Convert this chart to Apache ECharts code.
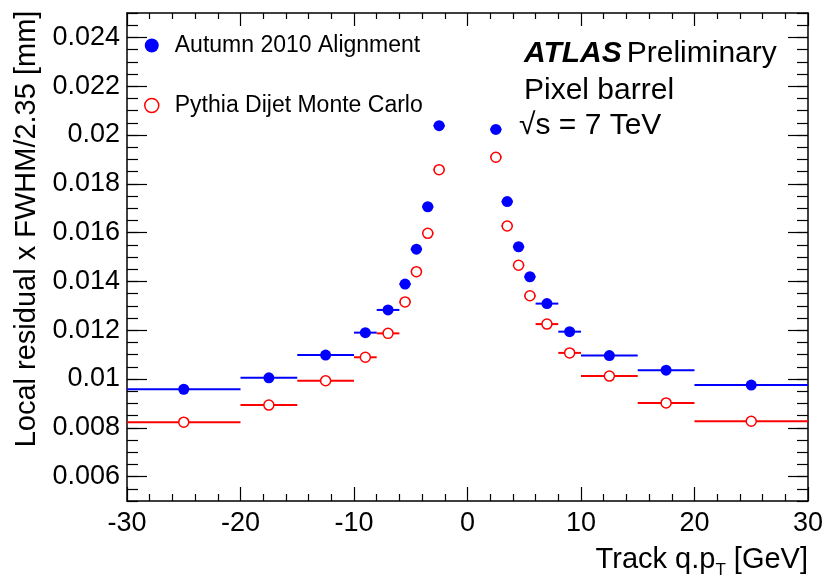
<!DOCTYPE html>
<html>
<head>
<meta charset="utf-8">
<script src="https://cdn.jsdelivr.net/npm/echarts@6/dist/echarts.min.js"></script>
<style>
html,body{margin:0;padding:0;background:#fff;}
#chart{width:826px;height:585px;}
</style>
</head>
<body>
<div id="chart"></div>
<script>
// ---- data ----
const xCenters = [-25, -17.5, -12.5, -9, -7, -5.5, -4.5, -3.5, -2.5, 2.5, 3.5, 4.5, 5.5, 7, 9, 12.5, 17.5, 25];
const binLow   = [-30, -20, -15, -10, -8, -6, -5, -4, -3, 2, 3, 4, 5, 6, 8, 10, 15, 20];
const binHigh  = [-20, -15, -10, -8, -6, -5, -4, -3, -2, 3, 4, 5, 6, 8, 10, 15, 20, 30];
const dataVals = [0.00958, 0.01005, 0.01098, 0.01190, 0.01283, 0.01389, 0.01532, 0.01706, 0.02038,
                  0.02023, 0.01727, 0.01542, 0.01419, 0.01309, 0.01194, 0.01096, 0.01036, 0.00975];
const mcVals   = [0.00823, 0.00893, 0.00993, 0.01089, 0.01187, 0.01316, 0.01440, 0.01597, 0.01858,
                  0.01909, 0.01627, 0.01466, 0.01341, 0.01225, 0.01107, 0.01012, 0.00902, 0.00827];
const yTickValues = [0.006, 0.008, 0.010, 0.012, 0.014, 0.016, 0.018, 0.020, 0.022, 0.024];
const dataName = 'Autumn 2010 Alignment';
const mcName = 'Pythia Dijet Monte Carlo';

const FONT = '"Liberation Sans", Arial, Helvetica, sans-serif';
const BLUE = '#0000ff', RED = '#ff0000';

const chart = echarts.init(document.getElementById('chart'));

function errBarSeries(vals, color) {
  return {
    type: 'custom', xAxisIndex: 0, yAxisIndex: 0, silent: true, z: 1,
    data: vals.map((v, i) => [binLow[i], binHigh[i], v]),
    encode: { x: [0, 1], y: 2 },
    renderItem: function (params, api) {
      const a = api.coord([api.value(0), api.value(2)]);
      const b = api.coord([api.value(1), api.value(2)]);
      return { type: 'line', shape: { x1: a[0], y1: a[1], x2: b[0], y2: b[1] },
               style: { stroke: color, lineWidth: 2 } };
    }
  };
}

const axisLineStyle = { color: '#000', width: 1.5 };
const tickLine = { color: '#000', width: 1.2 };

const option = {
  animation: false,
  backgroundColor: '#fff',
  textStyle: { fontFamily: FONT, color: '#000' },
  grid: { left: 127, right: 17, top: 13, bottom: 84 },
  title: [
    { text: '{b|ATLAS} {n|Preliminary}', left: 524, top: 39, padding: 0,
      textStyle: { rich: {
        b: { fontSize: 30, fontWeight: 'bold', fontStyle: 'italic', fontFamily: FONT, color: '#000' },
        n: { fontSize: 30, fontWeight: 'normal', fontFamily: FONT, color: '#000' } } } },
    { text: 'Pixel barrel', left: 524, top: 76, padding: 0,
      textStyle: { fontSize: 30, fontWeight: 'normal', fontFamily: FONT, color: '#000' } },
    { text: '√s = 7 TeV', left: 519, top: 111, padding: 0,
      textStyle: { fontSize: 30, fontWeight: 'normal', fontFamily: FONT, color: '#000' } }
  ],
  legend: {
    orient: 'vertical', left: 139, top: 29, itemWidth: 36, itemHeight: 14, itemGap: 37,
    textStyle: { fontSize: 23, lineHeight: 23, fontFamily: FONT, color: '#000' },
    data: [
      { name: dataName, icon: 'circle', itemStyle: { color: BLUE, borderWidth: 0 } },
      { name: mcName, icon: 'circle', itemStyle: { color: '#fff', borderColor: RED, borderWidth: 1.5 } }
    ]
  },
  xAxis: [
    { type: 'value', position: 'bottom', min: -30, max: 30, interval: 10,
      axisLine: { onZero: false, lineStyle: axisLineStyle },
      axisTick: { inside: true, length: 14, lineStyle: tickLine },
      minorTick: { show: true, splitNumber: 5, length: 7, lineStyle: tickLine },
      splitLine: { show: false }, minorSplitLine: { show: false },
      axisLabel: { fontSize: 27, color: '#000', margin: 9, fontFamily: FONT },
      name: '{a|Track q.p}{s|T}{a| [GeV]}', nameLocation: 'end', nameGap: 0,
      nameTextStyle: { align: 'right', verticalAlign: 'top', padding: [44, 0, 0, 0],
        rich: { a: { fontSize: 29, fontFamily: FONT, color: '#000' },
                s: { fontSize: 17, fontFamily: FONT, color: '#000', verticalAlign: 'bottom', padding: [0, 0, -5, 0] } } } },
    { type: 'value', position: 'top', min: -30, max: 30, interval: 10,
      axisLine: { onZero: false, lineStyle: axisLineStyle },
      axisTick: { inside: true, length: 13, lineStyle: tickLine },
      minorTick: { show: true, splitNumber: 5, length: 6, lineStyle: tickLine },
      splitLine: { show: false }, minorSplitLine: { show: false },
      axisLabel: { show: false } }
  ],
  yAxis: [
    { type: 'value', position: 'left', min: 0.005, max: 0.025, interval: 0.0005,
      axisLine: { show: true, onZero: false, lineStyle: axisLineStyle },
      axisTick: { show: true, inside: true, length: 20, lineStyle: tickLine, customValues: yTickValues },
      splitLine: { show: false },
      axisLabel: { fontSize: 27, color: '#000', margin: 7, fontFamily: FONT, customValues: yTickValues,
                   formatter: v => String(+v.toFixed(4)) },
      name: 'Local residual x FWHM/2.35 [mm]', nameLocation: 'middle', nameGap: 84,
      nameTextStyle: { fontSize: 29, fontFamily: FONT, color: '#000', padding: [0, 0, 0, 56] } },
    { type: 'value', position: 'left', min: 0.005, max: 0.025, interval: 0.0005,
      axisLine: { show: false, onZero: false },
      axisTick: { show: true, inside: true, length: 11, lineStyle: tickLine },
      splitLine: { show: false }, axisLabel: { show: false } },
    { type: 'value', position: 'right', min: 0.005, max: 0.025, interval: 0.0005,
      axisLine: { show: true, onZero: false, lineStyle: axisLineStyle },
      axisTick: { show: true, inside: true, length: 20, lineStyle: tickLine, customValues: yTickValues },
      splitLine: { show: false },
      axisLabel: { show: false } },
    { type: 'value', position: 'right', min: 0.005, max: 0.025, interval: 0.0005,
      axisLine: { show: false, onZero: false },
      axisTick: { show: true, inside: true, length: 11, lineStyle: tickLine },
      splitLine: { show: false }, axisLabel: { show: false } }
  ],
  series: [
    errBarSeries(dataVals, BLUE),
    errBarSeries(mcVals, RED),
    { name: dataName, type: 'scatter', xAxisIndex: 0, yAxisIndex: 0, z: 3,
      symbol: 'circle', symbolSize: 11,
      itemStyle: { color: BLUE, opacity: 1 },
      data: xCenters.map((x, i) => [x, dataVals[i]]) },
    { name: mcName, type: 'scatter', xAxisIndex: 0, yAxisIndex: 0, z: 3,
      symbol: 'circle', symbolSize: 10,
      itemStyle: { color: '#fff', borderColor: RED, borderWidth: 1.5, opacity: 1 },
      data: xCenters.map((x, i) => [x, mcVals[i]]) }
  ]
};
chart.setOption(option);
</script>
</body>
</html>
